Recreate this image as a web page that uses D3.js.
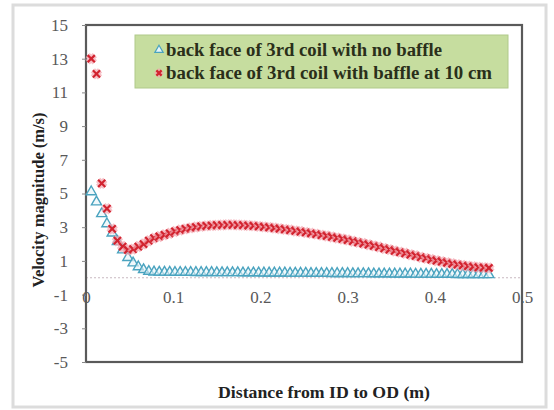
<!DOCTYPE html>
<html><head><meta charset="utf-8">
<script src="https://cdn.jsdelivr.net/npm/d3@7"></script>
<style>
body{margin:0;background:#fff}
svg{display:block}
svg text{font-family:"Liberation Serif" !important}
</style>
</head><body>
<script>
const distance = [0.006,0.012,0.018,0.024,0.030,0.036,0.042,0.048,0.054,0.060,0.066,0.072,0.078,0.084,0.090,0.096,0.102,0.108,0.114,0.120,0.126,0.132,0.138,0.144,0.150,0.156,0.162,0.168,0.174,0.180,0.186,0.192,0.198,0.204,0.210,0.216,0.222,0.228,0.234,0.240,0.246,0.252,0.258,0.264,0.270,0.276,0.282,0.288,0.294,0.300,0.306,0.312,0.318,0.324,0.330,0.336,0.342,0.348,0.354,0.360,0.366,0.372,0.378,0.384,0.390,0.396,0.402,0.408,0.414,0.420,0.426,0.432,0.438,0.444,0.450,0.456,0.462];
const noBaffle = [5.1,4.5,3.8,3.2,2.65,2.15,1.65,1.2,0.88,0.65,0.48,0.38,0.34,0.33,0.33,0.33,0.32,0.32,0.32,0.32,0.31,0.31,0.31,0.31,0.30,0.30,0.30,0.30,0.30,0.29,0.29,0.29,0.29,0.28,0.28,0.28,0.28,0.28,0.27,0.27,0.27,0.27,0.26,0.26,0.26,0.26,0.25,0.25,0.25,0.25,0.24,0.24,0.24,0.24,0.23,0.23,0.23,0.23,0.22,0.22,0.22,0.22,0.21,0.21,0.21,0.21,0.20,0.20,0.20,0.20,0.19,0.19,0.19,0.19,0.18,0.18,0.18];
const withBaffle = [13.0,12.1,5.6,4.1,2.9,2.2,1.85,1.65,1.7,1.85,2.0,2.2,2.35,2.45,2.55,2.64,2.75,2.83,2.9,2.96,3.01,3.05,3.08,3.1,3.12,3.13,3.14,3.14,3.13,3.12,3.1,3.08,3.05,3.02,2.99,2.95,2.91,2.87,2.83,2.78,2.74,2.69,2.64,2.59,2.53,2.48,2.42,2.36,2.3,2.24,2.17,2.1,2.03,1.96,1.89,1.82,1.74,1.67,1.59,1.52,1.45,1.37,1.3,1.22,1.15,1.08,1.01,0.95,0.89,0.83,0.78,0.73,0.69,0.65,0.62,0.6,0.58];
const yTicks = [15,13,11,9,7,5,3,1,-1,-3,-5];
const xTicks = [0,0.1,0.2,0.3,0.4,0.5];
const seriesNames = ["back face of 3rd coil with no baffle","back face of 3rd coil with baffle at 10 cm"];
const yTitle = "Velocity magnitude (m/s)";
const xTitle = "Distance from ID to OD (m)";

const W=554,H=410;
const svg=d3.select("body").append("svg").attr("width",W).attr("height",H)
  .attr("font-family","Liberation Serif");

svg.append("rect").attr("x",13).attr("y",5).attr("width",533).attr("height",402)
  .attr("fill","#fff").attr("stroke","#dcdcdc").attr("stroke-width",3);

const x=d3.scaleLinear().domain([0,0.5]).range([86,522]);
const y=d3.scaleLinear().domain([-5,15]).range([362,25]);

// zero line
svg.append("line").attr("x1",x(0)).attr("x2",x(0.5)).attr("y1",y(0)).attr("y2",y(0))
  .attr("stroke","#c8b8c0").attr("stroke-width",1).attr("stroke-dasharray","2,2");

// plot frame
svg.append("rect").attr("x",x(0)).attr("y",y(15)).attr("width",x(0.5)-x(0)).attr("height",y(-5)-y(15))
  .attr("fill","none").attr("stroke","#5a5a5a").attr("stroke-width",2.2);

// y axis
const yAxis=d3.axisLeft(y).tickValues(yTicks).tickSize(4).tickFormat(d=>String(d));
const ga=svg.append("g").attr("transform",`translate(${x(0)},0)`).call(yAxis);
ga.attr("font-family","Liberation Serif").attr("font-size",17);
ga.select(".domain").remove();
ga.selectAll("line").attr("stroke","#888");
ga.selectAll("text").attr("fill","#595959").attr("x",-18);

// x tick labels at y=-1
const xAxis=d3.axisBottom(x).tickValues(xTicks).tickSize(0).tickFormat(d=>d===0?"0":d3.format(".1f")(d));
const gx=svg.append("g").attr("transform",`translate(0,${y(-1)-7})`).call(xAxis);
gx.attr("font-family","Liberation Serif").attr("font-size",17);
gx.select(".domain").remove();
gx.selectAll("text").attr("fill","#595959");

// series: no baffle triangles
const tri=d3.symbol().type(d3.symbolTriangle).size(44);
svg.append("g").selectAll("path").data(distance.map((d,i)=>[d,noBaffle[i]])).join("path")
  .attr("d",tri).attr("transform",d=>`translate(${x(d[0])},${y(d[1])})`)
  .attr("fill","#e6f4f8").attr("fill-opacity",0.6).attr("stroke","#4aa3bf").attr("stroke-width",1.4);

// series: with baffle crosses
function cross(g,cx,cy,s){
  const p=`M${cx-s},${cy-s}L${cx+s},${cy+s}M${cx-s},${cy+s}L${cx+s},${cy-s}`;
  g.append("path").attr("d",p).attr("stroke","#f4a6b0").attr("stroke-width",6).attr("opacity",0.7);
  g.append("path").attr("d",p).attr("stroke","#d2232f").attr("stroke-width",2.2);
}
const gr=svg.append("g");
distance.forEach((d,i)=>cross(gr,x(d),y(withBaffle[i]),3.6));

// legend
svg.append("rect").attr("x",135).attr("y",35).attr("width",373).attr("height",53)
  .attr("fill","#c6dd9f").attr("stroke","#b0c98a").attr("stroke-width",1);
svg.append("path").attr("d",d3.symbol().type(d3.symbolTriangle).size(30)).attr("transform","translate(159,50)")
  .attr("fill","#e6f4f8").attr("stroke","#4aa3bf").attr("stroke-width",1.2);
cross(svg.append("g"),159,73,2.6);
svg.append("text").attr("x",166).attr("y",56).text(seriesNames[0])
  .attr("font-size",18.5).attr("fill","#2a2f1a").attr("font-weight","bold")
  .attr("textLength",276).attr("lengthAdjust","spacingAndGlyphs");
svg.append("text").attr("x",166).attr("y",79).text(seriesNames[1])
  .attr("font-size",18.5).attr("fill","#2a2f1a").attr("font-weight","bold")
  .attr("textLength",326).attr("lengthAdjust","spacingAndGlyphs");

// titles
svg.append("text").attr("transform","translate(44,200) rotate(-90)").attr("text-anchor","middle")
  .attr("font-size",16).attr("font-weight","bold").attr("fill","#222").text(yTitle)
  .attr("textLength",175).attr("lengthAdjust","spacingAndGlyphs");
svg.append("text").attr("x",324).attr("y",398).attr("text-anchor","middle")
  .attr("font-size",17).attr("font-weight","bold").attr("fill","#222").text(xTitle)
  .attr("textLength",212).attr("lengthAdjust","spacingAndGlyphs");
</script>
</body></html>
